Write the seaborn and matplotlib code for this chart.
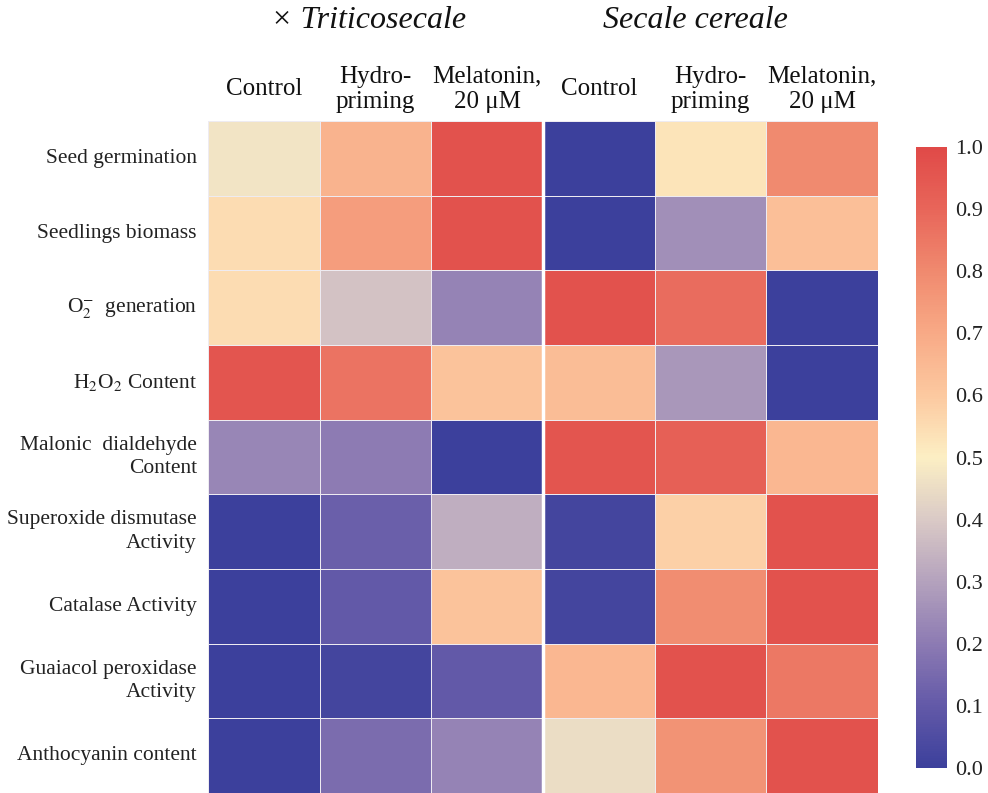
import numpy as np
import pandas as pd
import matplotlib
matplotlib.use("Agg")
import matplotlib.pyplot as plt
from matplotlib.colors import LinearSegmentedColormap
import seaborn as sns

sns.set_theme(style="white")
plt.rcParams["font.family"] = ["Liberation Serif", "DejaVu Serif"]
plt.rcParams["mathtext.fontset"] = "stix"

species = ["\u00d7 Triticosecale", "Secale cereale"]
treatments = ["Control", "Hydro-\npriming", "Melatonin,\n20 \u03bcM"]
parameters = [
    "Seed germination",
    "Seedlings biomass",
    r"O$_2^{-}$  generation",
    r"H$_2$O$_2$ Content",
    "Malonic  dialdehyde\nContent",
    "Superoxide dismutase\nActivity",
    "Catalase Activity",
    "Guaiacol peroxidase\nActivity",
    "Anthocyanin content",
]

# normalised responses, one list per parameter: Triticosecale (3) + Secale (3)
seed_germination = [0.47, 0.67, 0.97, 0.00, 0.53, 0.80]
seedlings_biomass = [0.55, 0.74, 0.97, 0.00, 0.25, 0.63]
superoxide_gen = [0.55, 0.38, 0.22, 0.97, 0.88, 0.00]
h2o2_content = [0.96, 0.86, 0.62, 0.64, 0.27, 0.00]
mda_content = [0.23, 0.20, 0.00, 0.96, 0.92, 0.66]
sod_activity = [0.00, 0.12, 0.33, 0.02, 0.58, 0.97]
cat_activity = [0.00, 0.10, 0.62, 0.02, 0.79, 0.97]
gpx_activity = [0.00, 0.02, 0.10, 0.66, 0.97, 0.85]
anthocyanin = [0.00, 0.16, 0.22, 0.45, 0.77, 0.97]

values = np.array([seed_germination, seedlings_biomass, superoxide_gen,
                   h2o2_content, mda_content, sod_activity, cat_activity,
                   gpx_activity, anthocyanin])
columns = treatments + treatments
df = pd.DataFrame(values, index=parameters)

cmap = LinearSegmentedColormap.from_list("bluecreamred", [
    (0.00, "#3c409c"),
    (0.10, "#6359a8"),
    (0.20, "#8d7bb3"),
    (0.30, "#b4a2bd"),
    (0.40, "#dacac6"),
    (0.50, "#fcefc4"),
    (0.60, "#fcc9a0"),
    (0.70, "#f8aa86"),
    (0.80, "#f08a6f"),
    (0.90, "#e8665a"),
    (1.00, "#e04a48"),
])

fig = plt.figure(figsize=(9.88, 7.93), dpi=100)
ax = fig.add_axes([0.2105, 0.0, 0.6782, 0.8474])
cax = fig.add_axes([0.927, 0.0315, 0.0315, 0.783])

sns.heatmap(df, ax=ax, cbar_ax=cax, cmap=cmap, vmin=0, vmax=1,
            linewidths=0.5, linecolor="#eeebf1",
            cbar_kws={"ticks": np.linspace(0, 1, 11)})

# white gap between the two species
ax.axvline(3, color="white", lw=2.5)

ax.xaxis.tick_top()
ax.set_xticks(np.arange(len(columns)) + 0.5)
ax.set_xticklabels(columns, fontsize=18, linespacing=1.17, color="#111111")
for t in ax.get_xticklabels():
    t.set_va("center")
ax.tick_params(axis="x", length=0, pad=23)

ax.set_yticklabels(parameters, rotation=0, fontsize=15.5, color="#222222",
                   ha="right", multialignment="right", linespacing=1.33)
ax.tick_params(axis="y", length=0, pad=8)
ax.set_xlabel("")
ax.set_ylabel("")

# species headings above each block of three columns
for name, xpos in zip(species, [0.240, 0.728]):
    ax.text(xpos, 1.0 + 101 / 672, name, transform=ax.transAxes,
            ha="center", va="center", fontsize=23, style="italic",
            color="#111111")

cax.tick_params(length=0, labelsize=16, pad=6, colors="#222222")
cax.set_yticklabels([f"{v:.1f}" for v in np.linspace(0, 1, 11)])
for s in cax.spines.values():
    s.set_visible(False)

fig.savefig("out.png", dpi=100)
